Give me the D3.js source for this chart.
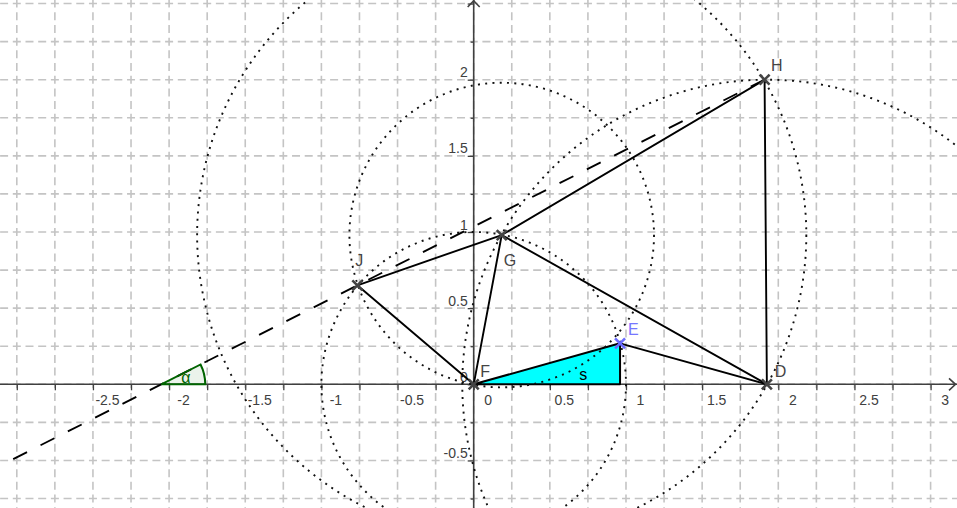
<!DOCTYPE html>
<html>
<head>
<meta charset="utf-8">
<script src="https://cdn.jsdelivr.net/npm/d3@7"></script>
<style>
  html, body { margin: 0; padding: 0; background: #fff; }
  svg { display: block; }
  text { font-family: "Liberation Sans", Arial, sans-serif; }
</style>
</head>
<body>
<svg id="chart" width="957" height="508"></svg>
<script>
// ---------- data ----------
const pointNames = ["F", "D", "H", "G", "J", "E", "P"];
const pointX     = [0, 1.925, 1.91, 0.184, -0.764, 0.961, 0.961];
const pointY     = [0, 0, 2.0, 0.98, 0.65, 0.269, 0];
const markedPoints = ["F", "D", "H", "G", "J", "E"];
const segFrom = ["J", "J", "G", "G", "G", "H", "E"];
const segTo   = ["F", "G", "F", "H", "D", "D", "D"];
const polygonS = ["F", "E", "P"];
const circleCenter = ["F", "G", "G", "D"];
const circleRadius = [1, 1, 2, 2];
const rayFrom = "H", rayThrough = "J";
const xTickValues = d3.range(-3, 3.01, 0.25).map(v => +v.toFixed(2));
const yTickValues = d3.range(-0.75, 2.51, 0.25).map(v => +v.toFixed(2));
const xLabelValues = [-2.5, -2, -1.5, -1, -0.5, 0, 0.5, 1, 1.5, 2, 2.5, 3];
const yLabelValues = [-0.5, 0, 0.5, 1, 1.5, 2];
const gridX = d3.range(-3, 3.01, 0.25);
const gridY = d3.range(-0.75, 2.51, 0.25);

// ---------- setup ----------
const W = 957, H = 508;
const svg = d3.select("#chart");
const x = d3.scaleLinear().domain([-3.1103, 3.1734]).range([0, W]);
const y = d3.scaleLinear().domain([-0.8122, 2.5233]).range([H, 0]);
const unitPx = x(1) - x(0);
const P = {};
pointNames.forEach((n, i) => P[n] = { x: pointX[i], y: pointY[i] });
const px = n => [x(P[n].x), y(P[n].y)];

// ---------- grid ----------
const cell = unitPx / 4;
const dashArr = `8,${(cell / 3 - 8).toFixed(3)}`;
const grid = svg.append("g").attr("stroke", "#c4c4c4").attr("stroke-width", 1.6)
  .attr("stroke-dasharray", dashArr).attr("fill", "none");
grid.selectAll("line.v").data(gridX).join("line")
  .attr("x1", d => x(d)).attr("x2", d => x(d))
  .attr("y1", y(2.75) - 4).attr("y2", H + 20);
grid.selectAll("line.h").data(gridY).join("line")
  .attr("y1", d => y(d)).attr("y2", d => y(d))
  .attr("x1", x(-3.25) - 4).attr("x2", W + 20);

// ---------- axes ----------
const axisColor = "#404040";
const fmt = d => String(d);
const xAxis = d3.axisBottom(x).tickValues(xTickValues).tickSize(6)
  .tickFormat(d => xLabelValues.includes(d) ? fmt(d) : "");
const gx = svg.append("g").attr("transform", `translate(0,${y(0)})`).call(xAxis);
gx.select(".domain").remove();
gx.selectAll(".tick line").attr("stroke", axisColor).attr("stroke-width", 1.3);
gx.selectAll(".tick text").attr("x", 14).attr("y", 20.7).attr("dy", "0")
  .attr("fill", "#404040").style("font-size", "14px")
  .style("font-family", '"Liberation Sans", Arial, sans-serif');

const yAxis = d3.axisLeft(y).tickValues(yTickValues).tickSize(6)
  .tickFormat(d => yLabelValues.includes(d) ? fmt(d) : "");
const gy = svg.append("g").attr("transform", `translate(${x(0)},0)`).call(yAxis);
gy.select(".domain").remove();
gy.selectAll(".tick line").attr("stroke", axisColor).attr("stroke-width", 1.3)
  .attr("x2", d => (Math.abs(d * 2 - Math.round(d * 2)) < 1e-6) ? -6 : -3);
gy.selectAll(".tick text").attr("x", -6).attr("y", -3).attr("dy", "0")
  .attr("fill", "#404040").style("font-size", "14px")
  .style("font-family", '"Liberation Sans", Arial, sans-serif');

// axis lines + arrows
svg.append("line").attr("x1", 0).attr("x2", W).attr("y1", y(0)).attr("y2", y(0))
  .attr("stroke", axisColor).attr("stroke-width", 1.6);
svg.append("line").attr("x1", x(0)).attr("x2", x(0)).attr("y1", 0).attr("y2", H)
  .attr("stroke", axisColor).attr("stroke-width", 1.6);
svg.append("path").attr("d", `M${W - 8},${y(0) - 6} L${W - 1.5},${y(0)} L${W - 8},${y(0) + 6}`)
  .attr("fill", "none").attr("stroke", axisColor).attr("stroke-width", 1.6);
svg.append("path").attr("d", `M${x(0) - 6},${7} L${x(0)},${0.8} L${x(0) + 6},${7}`)
  .attr("fill", "none").attr("stroke", axisColor).attr("stroke-width", 1.6);

// ---------- polygon s ----------
svg.append("polygon")
  .attr("points", polygonS.map(n => px(n).join(",")).join(" "))
  .attr("fill", "#00ffff").attr("stroke", "#000").attr("stroke-width", 2)
  .attr("stroke-linejoin", "round");

// ---------- segments ----------
svg.append("g").selectAll("line").data(segFrom.map((f, i) => [f, segTo[i]])).join("line")
  .attr("x1", d => px(d[0])[0]).attr("y1", d => px(d[0])[1])
  .attr("x2", d => px(d[1])[0]).attr("y2", d => px(d[1])[1])
  .attr("stroke", "#000").attr("stroke-width", 1.9).attr("stroke-linecap", "round");

// ---------- dotted circles ----------
svg.append("g").selectAll("circle").data(circleCenter.map((c, i) => [c, circleRadius[i]])).join("circle")
  .attr("cx", d => x(P[d[0]].x)).attr("cy", d => y(P[d[0]].y))
  .attr("r", d => x(d[1]) - x(0))
  .attr("fill", "none").attr("stroke", "#111").attr("stroke-width", 1.9)
  .attr("stroke-dasharray", "2,5.3");

// ---------- dashed ray ----------
const a = P[rayFrom], b = P[rayThrough];
const slope = (a.y - b.y) / (a.x - b.x);
const xEnd = x.invert(0);
const yEnd = a.y + slope * (xEnd - a.x);
svg.append("line")
  .attr("x1", x(a.x)).attr("y1", y(a.y)).attr("x2", x(xEnd)).attr("y2", y(yEnd))
  .attr("stroke", "#000").attr("stroke-width", 1.9).attr("stroke-dasharray", "15.5,15.1");

// ---------- angle alpha ----------
const vx = a.x - a.y / slope; // intersection with x-axis
const theta = Math.atan(slope);
const R = 44;
const V = [x(vx), y(0)];
svg.append("path")
  .attr("d", `M${V[0]},${V[1]} L${V[0] + R},${V[1]} A${R},${R} 0 0 0 ${V[0] + R * Math.cos(theta)},${V[1] - R * Math.sin(theta)} Z`)
  .attr("fill", "#006400").attr("fill-opacity", 0.08)
  .attr("stroke", "#006400").attr("stroke-width", 2);
svg.append("text").attr("x", V[0] + 20).attr("y", V[1] - 1).text("α")
  .attr("fill", "#006400").style("font-size", "16px");

// ---------- points ----------
const crossColor = n => n === "E" ? "#6c6cff" : "#444";
const cs = 5;
const pts = svg.append("g");
markedPoints.forEach(n => {
  const [cx, cy] = px(n);
  pts.append("path")
    .attr("d", `M${cx - cs},${cy - cs} L${cx + cs},${cy + cs} M${cx - cs},${cy + cs} L${cx + cs},${cy - cs}`)
    .attr("stroke", crossColor(n)).attr("stroke-width", 2.6);
});

// ---------- labels ----------
const labelOffsets = { F: [6.5, -7.5], D: [8, -7.5], H: [6.5, -8.5], G: [2, 30.5], J: [-2, -19.5], E: [8, -8] };
markedPoints.forEach(n => {
  const [cx, cy] = px(n);
  svg.append("text").attr("x", cx + labelOffsets[n][0]).attr("y", cy + labelOffsets[n][1])
    .text(n).attr("fill", n === "E" ? "#7676ff" : "#444").style("font-size", "16px");
});
// polygon label
const sx = d3.mean(polygonS, n => P[n].x), sy = d3.mean(polygonS, n => P[n].y);
svg.append("text").attr("x", x(sx) + 8).attr("y", y(sy) + 9.5).text("s")
  .attr("fill", "#000").style("font-size", "16px");
</script>
</body>
</html>
